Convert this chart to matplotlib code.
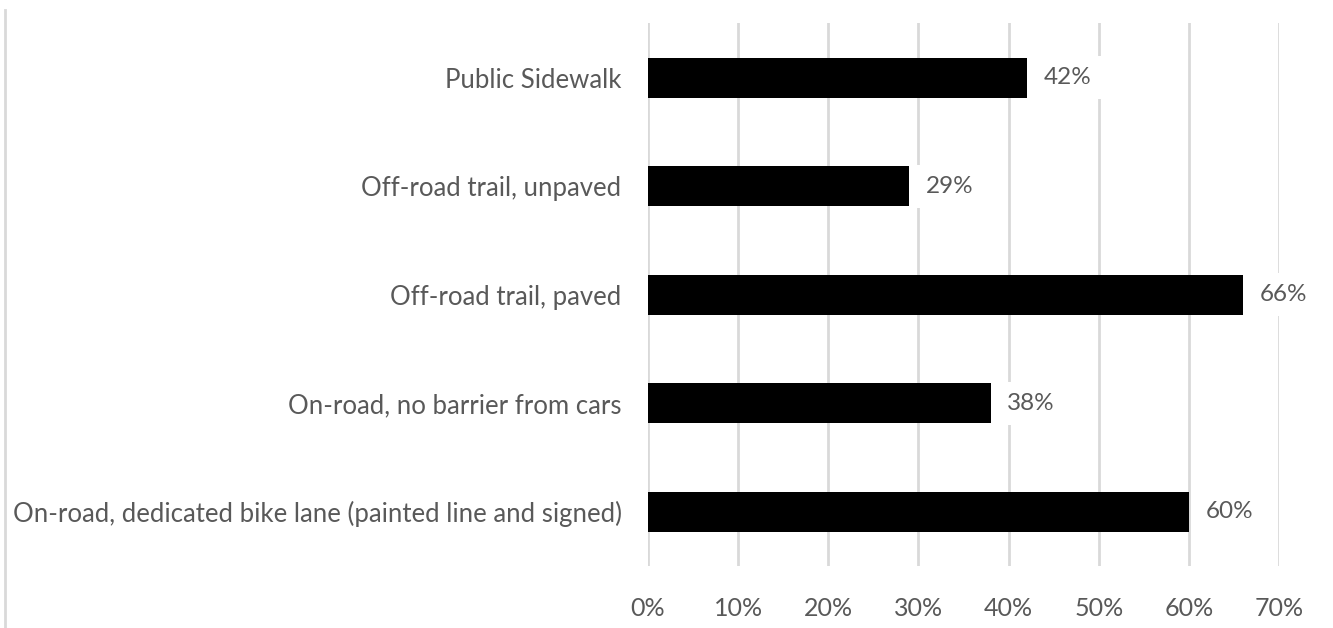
import matplotlib.pyplot as plt
import matplotlib.ticker as mticker
from matplotlib.lines import Line2D

# bike facility types, bottom to top as drawn
categories = [
    'On-road, dedicated bike lane (painted line and signed)',
    'On-road, no barrier from cars',
    'Off-road trail, paved',
    'Off-road trail, unpaved',
    'Public Sidewalk',
]
shares = [0.60, 0.38, 0.66, 0.29, 0.42]
xticks = [0.0, 0.1, 0.2, 0.3, 0.4, 0.5, 0.6, 0.7]

textcolor = '#595959'
gridcolor = '#d9d9d9'
plt.rcParams['font.family'] = ['Lato', 'DejaVu Sans']

fig = plt.figure(figsize=(13.33, 6.28), dpi=100, facecolor='white')
ax = fig.add_axes([0.4861, 0.0987, 0.4734, 0.8639])

ypos = list(range(len(categories)))
bars = ax.barh(ypos, shares, height=0.37, color='black', zorder=2)

# value labels sit on a white box so the gridlines break behind them
labels = ax.bar_label(bars, labels=['%d%%' % round(v * 100) for v in shares],
                      padding=12, fontsize=17.5, color=textcolor)
for t in labels:
    t.set_bbox(dict(facecolor='white', edgecolor='none', pad=8))
    t.set_zorder(3)

ax.set_xlim(0, 0.7)
ax.set_ylim(-0.5, len(categories) - 0.5)
ax.set_xticks(xticks)
ax.xaxis.set_major_formatter(mticker.PercentFormatter(1.0, decimals=0))
ax.set_yticks(ypos)
ax.set_yticklabels(categories)

ax.grid(axis='x', color=gridcolor, linewidth=2, zorder=0)
ax.set_axisbelow(True)
for s in ax.spines.values():
    s.set_visible(False)
ax.tick_params(axis='x', length=0, labelsize=18, labelcolor=textcolor, pad=22)
ax.tick_params(axis='y', length=0, labelsize=18.5, labelcolor=textcolor, pad=19)

# thin frame line on the left edge of the chart area
fig.add_artist(Line2D([5 / 1333, 5 / 1333], [0, 1 - 10 / 628],
                      transform=fig.transFigure, color=gridcolor, linewidth=2))

fig.savefig('out.png', dpi=100, facecolor='white')
